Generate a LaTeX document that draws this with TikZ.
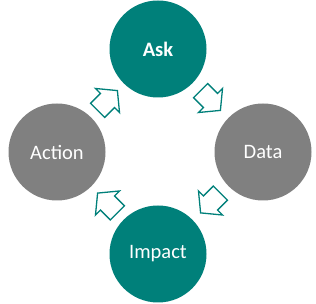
\documentclass[tikz,border=0pt]{standalone}
\usepackage{fontspec}
\setmainfont{Carlito}
\usetikzlibrary{calc}
\definecolor{tealc}{RGB}{0,128,122}
\definecolor{grayc}{RGB}{128,128,128}
\tikzset{
  circ/.style={circle,minimum size=97pt,inner sep=0pt,text=white,font=\fontsize{20.5}{24}\selectfont},
  tealcirc/.style={circ,fill=tealc},
  graycirc/.style={circ,fill=grayc},
  blockarrow/.style={draw=tealc,fill=white,line width=1.3pt,line join=miter},
  pics/barrow/.style={code={
    \draw[blockarrow] (-14,-10) -- (0,-10) -- (0,-17) -- (14,0) -- (0,17) -- (0,10) -- (-14,10) -- cycle;
  }}
}
\begin{document}
\begin{tikzpicture}[x=1pt,y=1pt]
\useasboundingbox (0,0) rectangle (316,304);
\node[tealcirc,font=\fontsize{20.5}{24}\selectfont\bfseries] (ask) at (158,255) {Ask};
\node[graycirc] (data) at (263,152) {Data};
\node[tealcirc] (impact) at (158,50) {Impact};
\node[graycirc] (action) at (57,152) {Action};
\pic[rotate=45] at ($(action)!0.5!(ask)$) {barrow};
\pic[rotate=-45] at ($(ask)!0.5!(data)$) {barrow};
\pic[rotate=-135] at ($(data)!0.5!(impact)$) {barrow};
\pic[rotate=135] at ($(impact)!0.5!(action)$) {barrow};
\end{tikzpicture}
\end{document}
